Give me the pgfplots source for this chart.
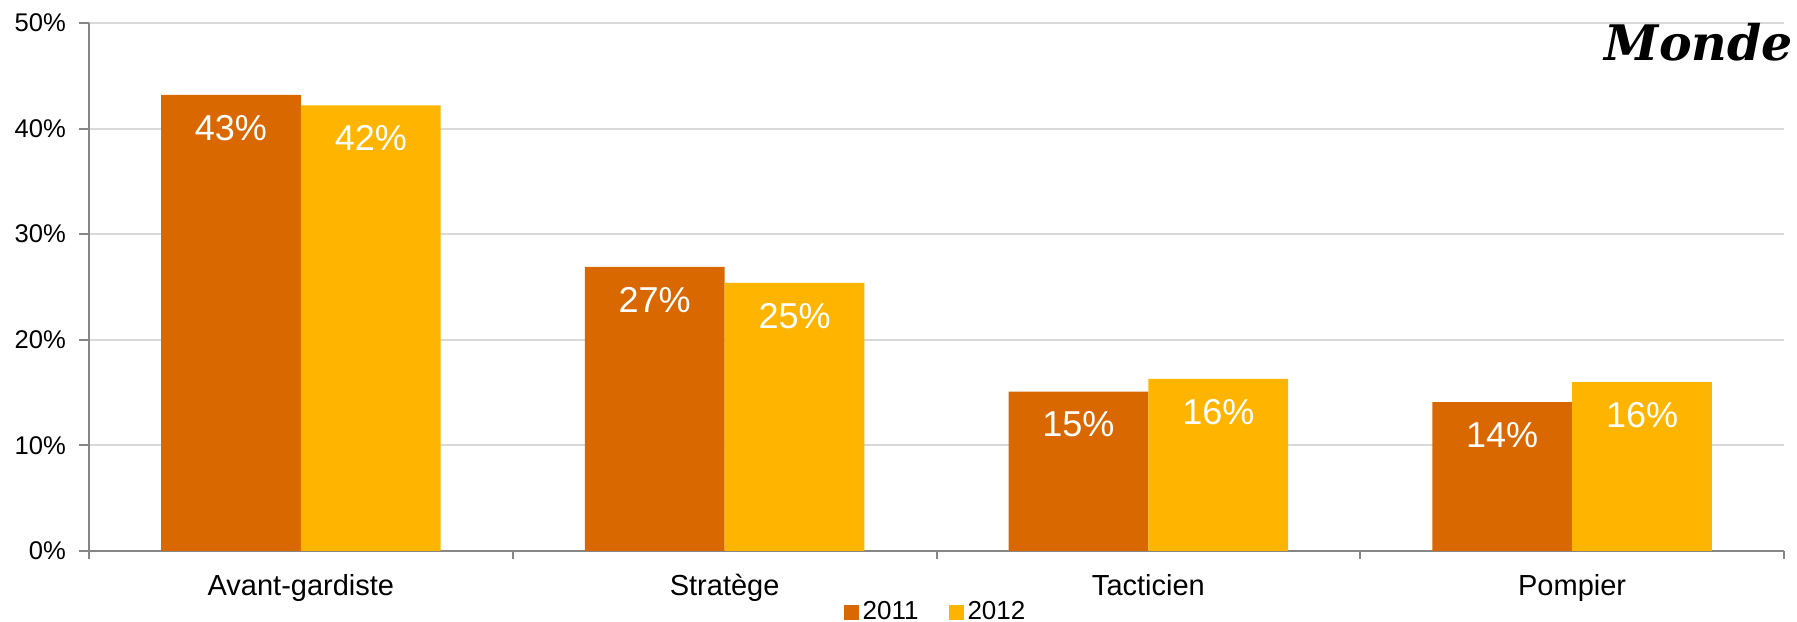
\documentclass[border=0pt]{standalone}
\usepackage{fontspec}
\setmainfont{Liberation Sans}
\newfontfamily\titlefont{DejaVu Serif}
\usepackage{pgfplots}
\pgfplotsset{compat=1.18}
\definecolor{c2011}{RGB}{218,104,0}
\definecolor{c2012}{RGB}{255,181,0}
\definecolor{axgray}{RGB}{134,134,134}
\definecolor{gridgray}{RGB}{217,217,217}
\begin{document}
\begin{tikzpicture}
\begin{axis}[
  width=847.5bp, height=264bp, scale only axis,
  xmin=-0.5, xmax=3.5, ymin=0, ymax=50,
  ybar=0pt, bar width=0.33,
  axis lines*=left,
  axis line style={axgray, line width=1bp},
  xtick={0,1,2,3},
  xticklabels={Avant-gardiste,Stratège,Tacticien,Pompier},
  minor xtick={-0.5,0.5,1.5,2.5,3.5},
  major x tick style={draw=none},
  tick align=outside,
  major tick length=5bp, minor tick length=4bp,
  tick style={axgray, line width=1bp},
  ytick={0,10,20,30,40,50},
  yticklabel={\pgfmathprintnumber{\tick}\%},
  ymajorgrids, grid style={gridgray, line width=1bp},
  /pgf/number format/assume math mode=true,
  yticklabel style={font=\fontsize{12.8bp}{15bp}\selectfont, xshift=-3bp},
  xticklabel style={font=\fontsize{14.5bp}{17bp}\selectfont, yshift=-3bp},
  nodes near coords={\pgfmathprintnumber[fixed,precision=0]{\pgfplotspointmeta}\%},
  nodes near coords style={anchor=center, yshift=-16.5bp, text=white, font=\fontsize{18bp}{21bp}\selectfont},
  legend style={at={(0.5,-0.116)}, anchor=center, draw=none, fill=none,
    legend columns=2, font=\fontsize{13bp}{15bp}\selectfont,
    /tikz/every even column/.append style={column sep=13bp}},
  legend image code/.code={\fill[#1,draw=none] (0bp,-3.75bp) rectangle (7.5bp,3.75bp);},
]
\addplot[fill=c2011, draw=none] coordinates {(0,43.2) (1,26.9) (2,15.1) (3,14.1)};
\addplot[fill=c2012, draw=none] coordinates {(0,42.2) (1,25.4) (2,16.3) (3,16.0)};
\legend{2011,2012}
\end{axis}
\node[anchor=base east, font=\titlefont\bfseries\itshape\fontsize{24.5bp}{28bp}\selectfont] at ([xshift=8bp,yshift=-19bp]current axis.north east) {Monde};
\pgfresetboundingbox
\path ([shift={(-44.5bp,-35.5bp)}]current axis.south west) rectangle ([shift={(6.5bp,11.5bp)}]current axis.north east);
\end{tikzpicture}
\end{document}
